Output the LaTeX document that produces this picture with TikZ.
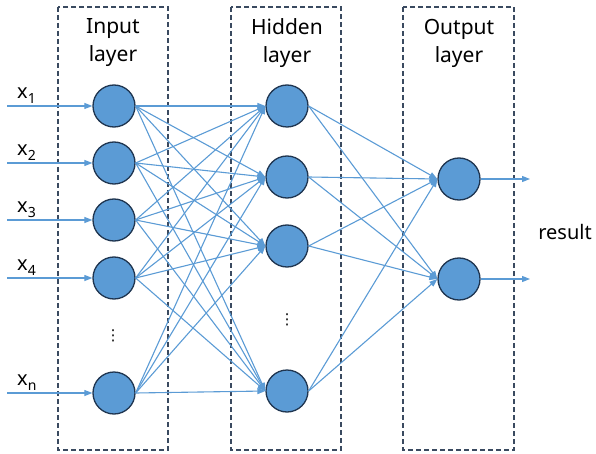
\documentclass[tikz,border=0pt]{standalone}
\usepackage{fontspec}
\setmainfont{Noto Sans}
\newfontfamily\symfont{DejaVu Sans}
\usetikzlibrary{arrows.meta, positioning}

\definecolor{nodeblue}{HTML}{5B9BD5}
\definecolor{nodeedge}{HTML}{1F3550}
\definecolor{boxgray}{HTML}{3A4A60}

\newcommand{\xin}[1]{x\raisebox{-5pt}{\fontsize{14}{14}\selectfont #1}}

\tikzset{
    neuron/.style={circle, draw=nodeedge, fill=nodeblue, line width=1.3pt, minimum size=42pt, inner sep=0pt},
    link/.style={draw=nodeblue, line width=1.1pt, -{Triangle[length=8pt, width=6pt]}},
    layerbox/.style={draw=boxgray, line width=1.3pt, dash pattern=on 5pt off 3pt},
    title/.style={align=center, font=\fontsize{21}{28}\selectfont},
    inlabel/.style={inner sep=1pt},
    vdotsbox/.style={inner sep=0pt, font=\symfont\fontsize{15}{15}\selectfont}
}

\begin{document}
\begin{tikzpicture}[x=1pt, y=-1pt, font=\fontsize{20}{24}\selectfont]
    \useasboundingbox (0,0) rectangle (596,454);

    % Draw the layer boxes
    \draw[layerbox] (58,7) rectangle (168,450);
    \draw[layerbox] (231,7) rectangle (341,450);
    \draw[layerbox] (403,7) rectangle (514,450);

    % Draw the layer titles
    \node[title] (tin) at (113,43) {Input\\layer};
    \node[title] (thid) at (287,43) {Hidden\\layer};
    \node[title] (tout) at (459,43) {Output\\layer};

    % Draw the neurons
    \foreach \y [count=\i] in {106,163,220,278,393}
        \node[neuron] (i\i) at (114,\y) {};
    \foreach \y [count=\j] in {106,177,246,391}
        \node[neuron] (h\j) at (287,\y) {};
    \foreach \y [count=\k] in {179,279}
        \node[neuron] (o\k) at (459,\y) {};

    \node[vdotsbox] (idots) at (113,336) {⋮};
    \node[vdotsbox] (hdots) at (287,320) {⋮};

    % Draw the input arrows
    \foreach \y/\s [count=\i] in {106/1,163/2,220/3,278/4,393/n} {
        \coordinate (s\i) at (7,\y);
        \draw[link] (s\i) -- (i\i);
        \node[inlabel, above right=1pt and 9pt of s\i] (x\i) {\xin{\s}};
    }

    % Draw the connections
    \foreach \i in {1,...,5}
        \foreach \j in {1,...,4}
            \draw[link] (i\i.east) -- (h\j.west);
    \foreach \j in {1,...,4}
        \foreach \k in {1,2}
            \draw[link] (h\j.east) -- (o\k.west);

    % Draw the output arrows
    \foreach \k in {1,2} {
        \coordinate (r\k) at (530,0 |- o\k);
        \draw[link] (o\k) -- (r\k);
    }
    \node (result) at (565,232) {result};
\end{tikzpicture}
\end{document}
